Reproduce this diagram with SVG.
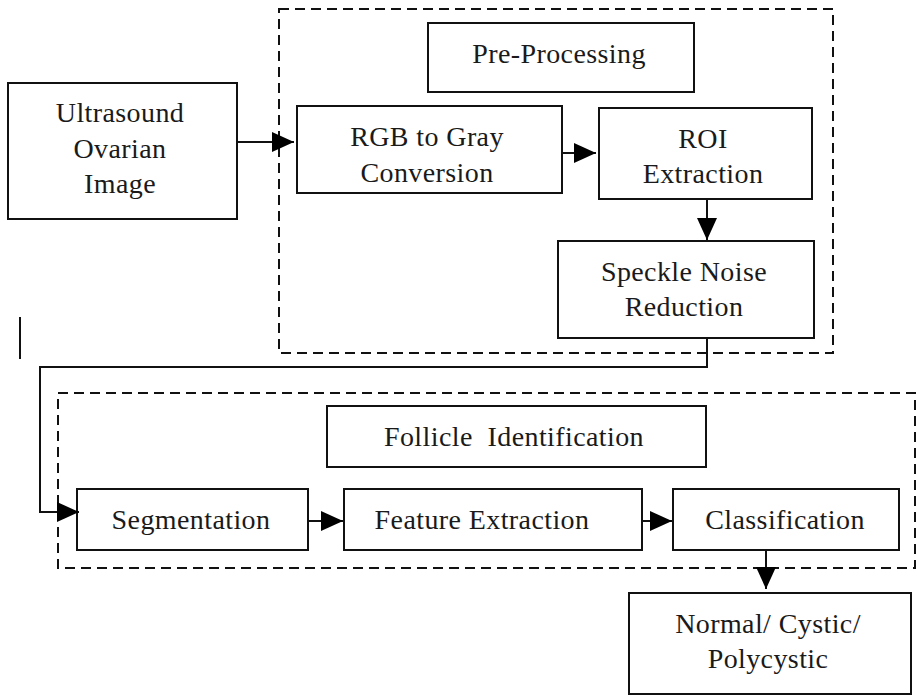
<svg xmlns="http://www.w3.org/2000/svg" width="917" height="697" viewBox="0 0 917 697">
<style>
.box{fill:#fff;stroke:#111;stroke-width:2}
.grp{fill:none;stroke:#111;stroke-width:2;stroke-dasharray:10 6}
.t{font-family:"Liberation Serif","Times New Roman",Times,Tinos,"Noto Serif","DejaVu Serif",FreeSerif,Georgia,serif;font-size:28px;fill:#1a1a1a;text-anchor:middle;letter-spacing:0.4px}
.c{fill:none;stroke:#111;stroke-width:2}
</style>
<defs>
<marker id="ah" viewBox="0 0 22 20" refX="22" refY="10" markerWidth="22" markerHeight="20" markerUnits="userSpaceOnUse" orient="auto">
<path d="M0,0 L22,10 L0,20 z" fill="#000"/>
</marker>
</defs>
<rect width="917" height="697" fill="#fff"/>
<g id="preprocessing-group"><rect class="grp" x="279" y="9" width="554" height="344"/></g>
<g id="follicle-group"><rect class="grp" x="58" y="393" width="857" height="175"/></g>
<g id="stray"><line class="c" x1="20" y1="317" x2="20" y2="359"/></g>
<g id="ultrasound"><rect class="box" x="8" y="83" width="229" height="136"/>
<text class="t" x="120" y="122">Ultrasound</text><text class="t" x="120" y="158">Ovarian</text><text class="t" x="120" y="193">Image</text></g>
<g id="pre-processing"><rect class="box" x="428" y="23" width="266" height="69"/>
<text class="t" x="559" y="63">Pre-Processing</text></g>
<g id="rgb-gray"><rect class="box" x="297" y="106" width="265" height="87"/>
<text class="t" x="427" y="146">RGB to Gray</text><text class="t" x="427" y="182">Conversion</text></g>
<g id="roi"><rect class="box" x="599" y="108" width="213" height="91"/>
<text class="t" x="703" y="148">ROI</text><text class="t" x="703" y="183">Extraction</text></g>
<g id="speckle"><rect class="box" x="558" y="241" width="256" height="97"/>
<text class="t" x="684" y="281">Speckle Noise</text><text class="t" x="684" y="316">Reduction</text></g>
<g id="follicle"><rect class="box" x="327" y="406" width="379" height="61"/>
<text class="t" x="514" y="446" xml:space="preserve">Follicle  Identification</text></g>
<g id="segmentation"><rect class="box" x="77" y="489" width="231" height="61"/>
<text class="t" x="191" y="529">Segmentation</text></g>
<g id="feature"><rect class="box" x="344" y="489" width="298" height="61"/>
<text class="t" x="482" y="529">Feature Extraction</text></g>
<g id="classification"><rect class="box" x="673" y="489" width="226" height="61"/>
<text class="t" x="785" y="529">Classification</text></g>
<g id="result"><rect class="box" x="629" y="593" width="282" height="101"/>
<text class="t" x="768" y="633">Normal/ Cystic/</text><text class="t" x="768" y="668">Polycystic</text></g>
<g id="connectors">
<line class="c" x1="237" y1="142" x2="294" y2="142" marker-end="url(#ah)"/>
<line class="c" x1="562" y1="153" x2="596" y2="153" marker-end="url(#ah)"/>
<line class="c" x1="707" y1="199" x2="707" y2="240" marker-end="url(#ah)"/>
<polyline class="c" points="707,338 707,367 40,367 40,512 79,512" marker-end="url(#ah)"/>
<line class="c" x1="308" y1="521" x2="343" y2="521" marker-end="url(#ah)"/>
<line class="c" x1="642" y1="521" x2="672" y2="521" marker-end="url(#ah)"/>
<line class="c" x1="766" y1="550" x2="766" y2="589" marker-end="url(#ah)"/>
</g>
</svg>
